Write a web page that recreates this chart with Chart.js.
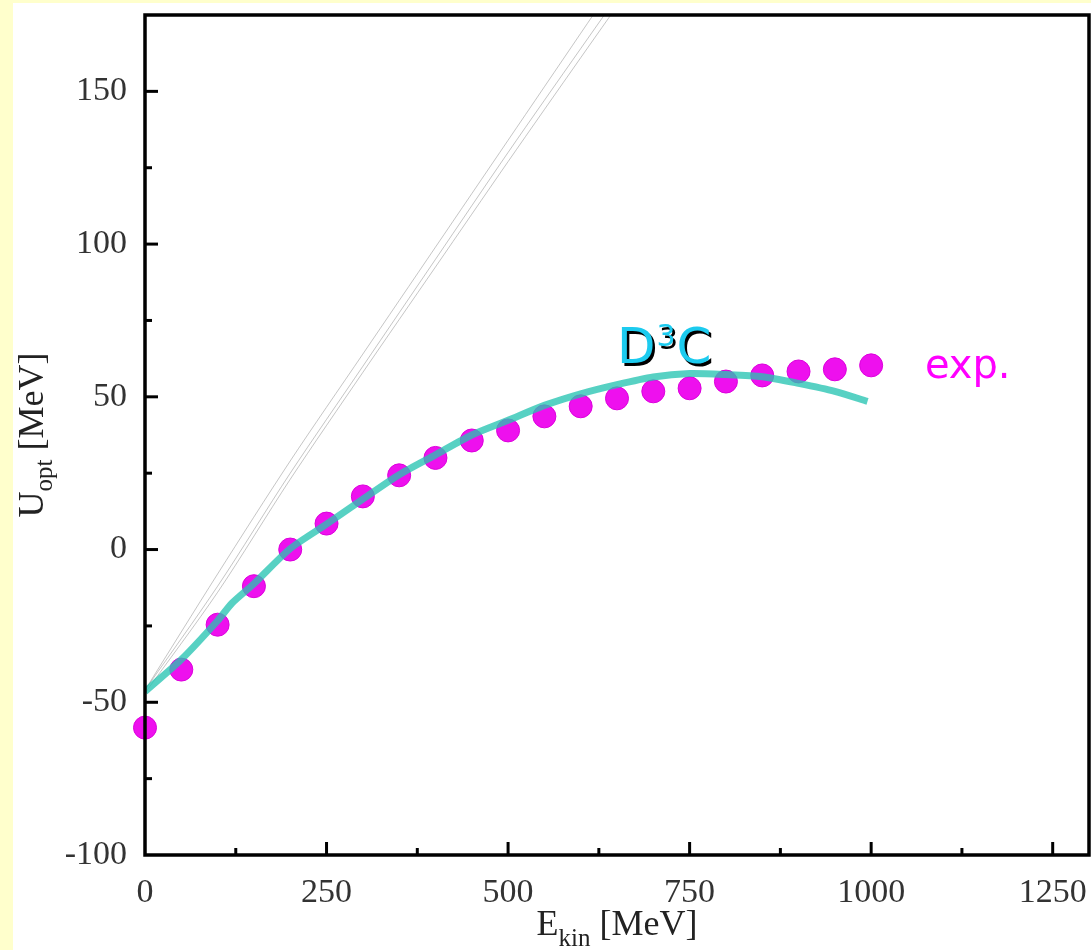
<!DOCTYPE html>
<html>
<head>
<meta charset="UTF-8">
<title>U_opt vs E_kin</title>
<script src="https://cdn.jsdelivr.net/npm/chart.js@4.4.1/dist/chart.umd.min.js"></script>
<style>
    body { margin: 0; background: #ffffcc; }
    #wrap { position: relative; width: 1091px; height: 950px; }
</style>
</head>
<body>
<div id="wrap"><canvas id="grafico"></canvas></div>
<script>
// experimental points
const expE = [0, 50, 100, 150, 200, 250, 300, 350, 400, 450, 500, 550, 600, 650, 700, 750, 800, 850, 900, 950, 1000];
const expU = [-58.3, -39.3, -24.6, -12.0, 0, 8.5, 17.4, 24.3, 30.0, 35.7, 39.0, 43.6, 46.9, 49.5, 51.8, 52.8, 55.0, 57.0, 58.3, 59.0, 60.3];

// D3C curve
const d3cE = [0, 50, 100, 120, 150, 200, 250, 300, 350, 400, 450, 500, 550, 600, 650, 700, 750, 800, 850, 900, 950, 995];
const d3cU = [-46.5, -36.0, -23.3, -17.5, -11.2, 0.3, 8.3, 16.5, 24.5, 31.0, 37.5, 42.3, 47.2, 51.0, 54.0, 56.5, 57.6, 57.3, 56.6, 54.4, 51.8, 48.5];

// thin grey curves (run off the top)
const greyE = [0, 100, 200, 300, 400, 500, 600, 680];
const greyA = [-46, -8, 29, 64, 99, 134, 169, 197];
const greyB = [-46, -12, 25, 60, 95, 130, 164, 191];
const greyC = [-47, -14, 23, 58, 92.5, 127, 161, 188];

const xMajor = [0, 250, 500, 750, 1000, 1250];
const yMajor = [-100, -50, 0, 50, 100, 150];

const pts = (xs, ys) => xs.map((x, i) => ({ x: x, y: ys[i] }));

const fondo = {
    id: 'fondo',
    beforeDraw(chart) {
        const c = chart.ctx;
        c.save();
        c.fillStyle = '#ffffcc';
        c.fillRect(0, 0, chart.width, chart.height);
        c.fillStyle = '#ffffff';
        c.fillRect(13, 3, chart.width - 13, chart.height - 3);
        c.restore();
    }
};

const marco = {
    id: 'marco',
    afterDraw(chart) {
        const c = chart.ctx;
        const a = chart.chartArea;
        const sx = chart.scales.x, sy = chart.scales.y;
        c.save();
        c.strokeStyle = '#000';
        c.lineCap = 'butt';

        // ticks hacia dentro
        c.lineWidth = 3;
        for (let v = 125; v <= 1250; v += 125) {
            const px = sx.getPixelForValue(v);
            const len = v % 250 === 0 ? 13 : 7;
            c.beginPath(); c.moveTo(px, a.bottom); c.lineTo(px, a.bottom - len); c.stroke();
        }
        for (let v = -75; v <= 150; v += 25) {
            const py = sy.getPixelForValue(v);
            const len = v % 50 === 0 ? 13 : 7;
            c.beginPath(); c.moveTo(a.left, py); c.lineTo(a.left + len, py); c.stroke();
        }

        c.lineWidth = 3.5;
        c.strokeRect(a.left, a.top, a.right - a.left, a.bottom - a.top);

        // titulos de ejes
        c.fillStyle = '#222';
        c.textBaseline = 'alphabetic';
        const big = '36px "Liberation Serif", serif';
        const small = '25px "Liberation Serif", serif';
        function anchos(t1, t2, t3) {
            c.font = big; const w1 = c.measureText(t1).width;
            c.font = small; const w2 = c.measureText(t2).width;
            c.font = big; const w3 = c.measureText(t3).width;
            return [w1, w2, w3];
        }
        // E_kin [MeV]
        let [w1, w2, w3] = anchos('E', 'kin', ' [MeV]');
        let x0 = (a.left + a.right) / 2 - (w1 + w2 + w3) / 2;
        c.font = big; c.fillText('E', x0, 935);
        c.font = small; c.fillText('kin', x0 + w1, 946);
        c.font = big; c.fillText(' [MeV]', x0 + w1 + w2, 935);

        // U_opt [MeV]
        [w1, w2, w3] = anchos('U', 'opt', ' [MeV]');
        c.save();
        c.translate(43, (a.top + a.bottom) / 2);
        c.rotate(-Math.PI / 2);
        x0 = -(w1 + w2 + w3) / 2;
        c.font = big; c.fillText('U', x0, 0);
        c.font = small; c.fillText('opt', x0 + w1, 9);
        c.font = big; c.fillText(' [MeV]', x0 + w1 + w2, 0);
        c.restore();

        // etiquetas D3C y exp.
        const dx = sx.getPixelForValue(650), dy = sy.getPixelForValue(61);
        const f1 = '50px "DejaVu Sans", sans-serif';
        const f2 = '30px "DejaVu Sans", sans-serif';
        c.font = f1; const wD = c.measureText('D').width;
        c.font = f2; const w3s = c.measureText('3').width;
        [[2.5, '#000'], [0, '#1ccbef']].forEach(([o, col]) => {
            c.fillStyle = col;
            c.font = f1; c.fillText('D', dx + o, dy + o);
            c.font = f2; c.fillText('3', dx + wD + 1 + o, dy - 17 + o);
            c.font = f1; c.fillText('C', dx + wD + w3s + 2 + o, dy + o);
        });

        c.fillStyle = '#ff00ff';
        c.font = '40px "DejaVu Sans", sans-serif';
        c.fillText('exp.', sx.getPixelForValue(1074), sy.getPixelForValue(56));
        c.restore();
    }
};

const serif = { family: '"Liberation Serif", serif', size: 34 };

new Chart(document.getElementById('grafico'), {
    type: 'line',
    data: {
        datasets: [
            {
                label: 'D3C',
                data: pts(d3cE, d3cU),
                borderColor: 'rgba(40, 196, 178, 0.78)',
                borderWidth: 7,
                pointRadius: 0,
                tension: 0.25,
                clip: 0
            },
            {
                label: 'exp.',
                data: pts(expE, expU),
                showLine: false,
                pointRadius: 11.5,
                pointBackgroundColor: '#ee10ee',
                pointBorderColor: '#dd00dd',
                pointBorderWidth: 1,
                clip: 20
            },
            { data: pts(greyE, greyA), borderColor: 'rgba(150,150,150,0.55)', borderWidth: 1, pointRadius: 0, tension: 0.3, clip: 0 },
            { data: pts(greyE, greyB), borderColor: 'rgba(150,150,150,0.55)', borderWidth: 1, pointRadius: 0, tension: 0.3, clip: 0 },
            { data: pts(greyE, greyC), borderColor: 'rgba(150,150,150,0.55)', borderWidth: 1, pointRadius: 0, tension: 0.3, clip: 0 }
        ]
    },
    options: {
        responsive: true,
        maintainAspectRatio: false,
        animation: false,
        layout: { autoPadding: false, padding: { top: 15, right: 2, left: 0, bottom: 0 } },
        plugins: { legend: { display: false }, tooltip: { enabled: false } },
        scales: {
            x: {
                type: 'linear',
                min: 0, max: 1300,
                border: { display: false },
                grid: { display: false },
                afterFit: s => { s.height = 95; s.paddingLeft = 0; s.paddingRight = 0; },
                ticks: {
                    stepSize: 125,
                    includeBounds: false,
                    autoSkip: false,
                    maxRotation: 0,
                    padding: 10,
                    color: '#333',
                    font: serif,
                    callback: v => xMajor.includes(v) ? v : ''
                }
            },
            y: {
                min: -100, max: 175,
                border: { display: false },
                grid: { display: false },
                afterFit: s => { s.width = 145; s.paddingTop = 0; s.paddingBottom = 0; },
                ticks: {
                    stepSize: 25,
                    autoSkip: false,
                    padding: 10,
                    color: '#333',
                    font: serif,
                    callback: v => yMajor.includes(v) ? v : ''
                }
            }
        }
    },
    plugins: [fondo, marco]
});
</script>
</body>
</html>
